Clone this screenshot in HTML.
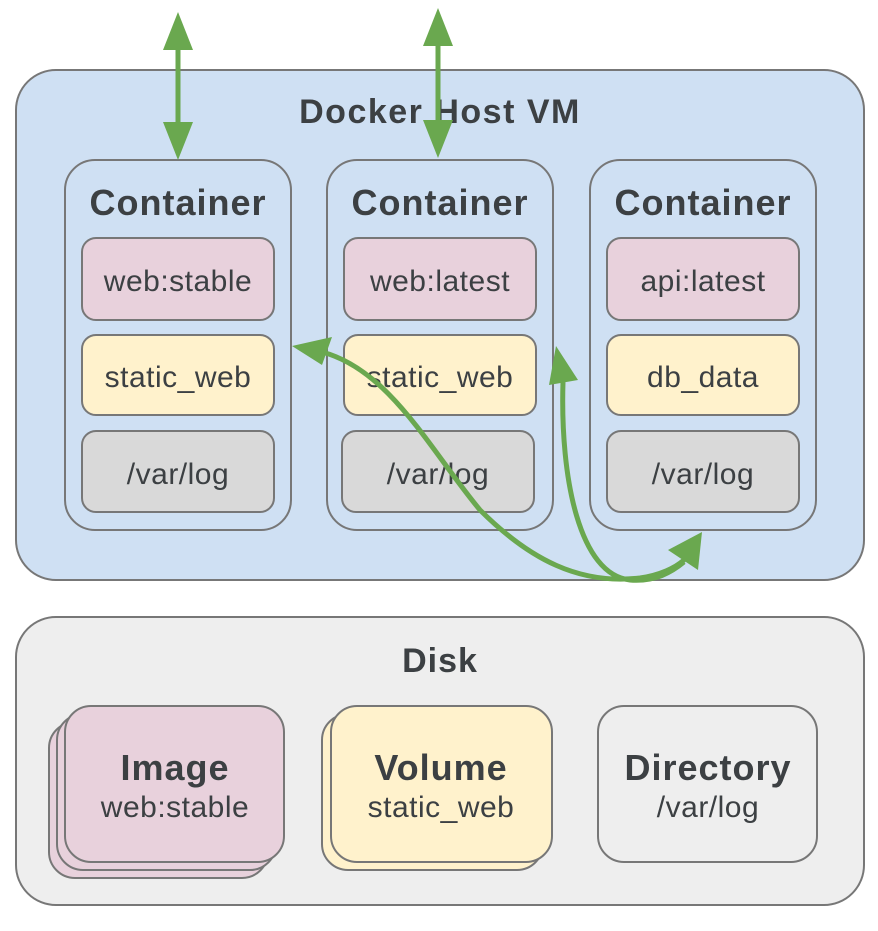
<!DOCTYPE html>
<html><head><meta charset="utf-8"><style>
html,body{margin:0;padding:0;background:#fff;}
text{font-family:"Liberation Sans",sans-serif;fill:#3c4043;}
</style></head><body>
<svg width="878" height="926" viewBox="0 0 878 926" xmlns="http://www.w3.org/2000/svg">
<rect x="16" y="70" width="848" height="510" rx="40" fill="#cfe0f3" stroke="#777" stroke-width="2"/>
<text x="440" y="123" text-anchor="middle" font-size="34" font-weight="bold" letter-spacing="1.5">Docker Host VM</text>
<g stroke="#777" stroke-width="2">
<rect x="65" y="160" width="226" height="370" rx="30" fill="#cfe0f3"/>
<rect x="327" y="160" width="226" height="370" rx="30" fill="#cfe0f3"/>
<rect x="590" y="160" width="226" height="370" rx="30" fill="#cfe0f3"/>
<rect x="82" y="238" width="192" height="82" rx="14" fill="#e8d1dc"/>
<rect x="82" y="335" width="192" height="80" rx="14" fill="#fff2cc"/>
<rect x="82" y="431" width="192" height="81" rx="14" fill="#d9d9d9"/>
<rect x="344" y="238" width="192" height="82" rx="14" fill="#e8d1dc"/>
<rect x="344" y="335" width="192" height="80" rx="14" fill="#fff2cc"/>
<rect x="342" y="431" width="192" height="81" rx="14" fill="#d9d9d9"/>
<rect x="607" y="238" width="192" height="82" rx="14" fill="#e8d1dc"/>
<rect x="607" y="335" width="192" height="80" rx="14" fill="#fff2cc"/>
<rect x="607" y="431" width="192" height="81" rx="14" fill="#d9d9d9"/>
</g>
<g font-size="36" font-weight="bold" text-anchor="middle" letter-spacing="1">
<text x="178" y="215">Container</text><text x="440" y="215">Container</text><text x="703" y="215">Container</text>
</g>
<g font-size="30" text-anchor="middle" letter-spacing="0.5">
<text x="178" y="291">web:stable</text><text x="440" y="291">web:latest</text><text x="703" y="291">api:latest</text>
<text x="178" y="387">static_web</text><text x="440" y="387">static_web</text><text x="703" y="387">db_data</text>
<text x="178" y="484">/var/log</text><text x="438" y="484">/var/log</text><text x="703" y="484">/var/log</text>
</g>
<g fill="none" stroke="#6aa84f" stroke-width="5">
<path d="M178,45 L178,128"/>
<path d="M438,40 L438,126"/>
<path d="M322,352 C390,370 430,450 480,510 C530,560 580,585 640,578 C660,575 675,568 684,560"/>
<path d="M563,382 C560,480 580,575 630,580 C655,582 672,572 684,562"/>
</g>
<g fill="#6aa84f">
<polygon points="178,12 163,50 193,50"/>
<polygon points="178,160 163,122 193,122"/>
<polygon points="438,8 423,46 453,46"/>
<polygon points="438,158 423,120 453,120"/>
<polygon points="292,346 332,337 322,365"/>
<polygon points="556,346 578,380 549,385"/>
<polygon points="702,532 668,550 698,570"/>
</g>
<rect x="16" y="617" width="848" height="288" rx="40" fill="#eeeeee" stroke="#777" stroke-width="2"/>
<text x="440" y="672" text-anchor="middle" font-size="34" font-weight="bold" letter-spacing="1">Disk</text>
<g stroke="#777" stroke-width="2">
<rect x="49" y="722" width="219" height="156" rx="26" fill="#e8d1dc"/>
<rect x="57" y="714" width="219" height="156" rx="26" fill="#e8d1dc"/>
<rect x="65" y="706" width="219" height="156" rx="26" fill="#e8d1dc"/>
<rect x="322" y="714" width="221" height="156" rx="26" fill="#fff2cc"/>
<rect x="331" y="706" width="221" height="156" rx="26" fill="#fff2cc"/>
<rect x="598" y="706" width="219" height="156" rx="26" fill="#eeeeee"/>
</g>
<g text-anchor="middle">
<text x="175" y="780" font-size="36" font-weight="bold" letter-spacing="1">Image</text>
<text x="175" y="817" font-size="30" letter-spacing="0.5">web:stable</text>
<text x="441" y="780" font-size="36" font-weight="bold" letter-spacing="1">Volume</text>
<text x="441" y="817" font-size="30" letter-spacing="0.5">static_web</text>
<text x="708" y="780" font-size="36" font-weight="bold" letter-spacing="1">Directory</text>
<text x="708" y="817" font-size="30" letter-spacing="0.5">/var/log</text>
</g>
</svg>
</body></html>
